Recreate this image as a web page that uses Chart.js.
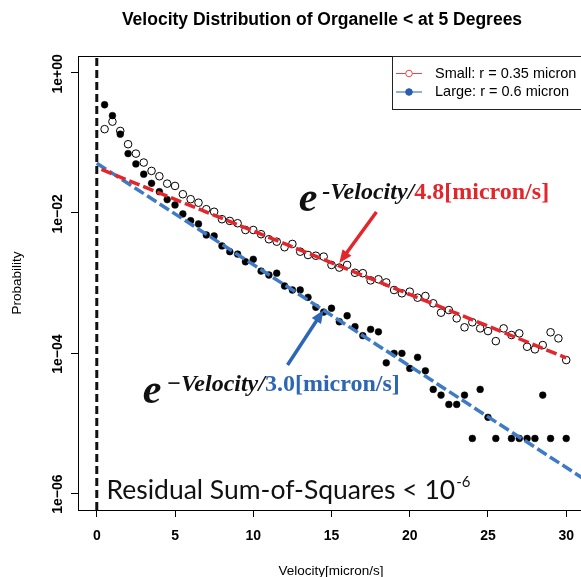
<!DOCTYPE html>
<html>
<head>
<meta charset="utf-8">
<title>Velocity Distribution of Organelle</title>
<script src="https://cdn.jsdelivr.net/npm/chart.js@4.4.1/dist/chart.umd.min.js"></script>
<style>
  html, body { margin: 0; padding: 0; background: #fff; overflow: hidden; }
  #wrap { position: relative; width: 590px; height: 577px; }
</style>
</head>
<body>
<div id="wrap"><canvas id="velocityChart" width="590" height="577"></canvas></div>
<script>
// Velocity bins (micron/s)
const velocity = [0.5, 1, 1.5, 2, 2.5, 3, 3.5, 4, 4.5, 5, 5.5, 6, 6.5, 7, 7.5, 8, 8.5, 9, 9.5, 10,
    10.5, 11, 11.5, 12, 12.5, 13, 13.5, 14, 14.5, 15, 15.5, 16, 16.5, 17, 17.5, 18, 18.5, 19, 19.5, 20,
    20.5, 21, 21.5, 22, 22.5, 23, 23.5, 24, 24.5, 25, 25.5, 26, 26.5, 27, 27.5, 28, 28.5, 29, 29.5, 30];

// Small organelles, r = 0.35 micron
const smallProb = [0.157, 0.201, 0.148, 0.0957, 0.0703, 0.0524, 0.0398, 0.0334, 0.0262, 0.0243,
    0.0185, 0.0157, 0.0140, 0.0113, 0.0104, 0.00813, 0.00769, 0.00713, 0.00571, 0.00571,
    0.00497, 0.00421, 0.00389, 0.00324, 0.00361, 0.00280, 0.00251, 0.00245, 0.00238, 0.00181,
    0.00166, 0.00181, 0.00140, 0.00138, 0.00109, 0.00113, 0.00102, 0.000794, 0.000713, 0.000752,
    0.000617, 0.000652, 0.000513, 0.000377, 0.000411, 0.000313, 0.000233, 0.000275, 0.000225, 0.000206,
    0.000148, 0.000225, 0.000181, 0.000191, 0.000123, 0.000113, 0.000130, 0.000198, 0.000162, 0.0000794];

// Large organelles, r = 0.6 micron (empty bins are null)
const largeProb = [0.350, 0.245, 0.133, 0.0703, 0.0501, 0.0357, 0.0265, 0.0201, 0.0155, 0.0130,
    0.00968, 0.00776, 0.00697, 0.00485, 0.00469, 0.00338, 0.00280, 0.00259, 0.00201, 0.00218,
    0.00148, 0.00130, 0.00138, 0.000906, 0.000794, 0.000794, 0.000625, 0.000450, 0.000385, 0.000436,
    0.000280, 0.000341, 0.000238, 0.000177, 0.000218, 0.000201, 0.0000726, 0.0000991, 0.0000991, 0.0000604,
    0.0000869, 0.0000558, 0.0000303, 0.0000251, 0.0000185, 0.0000185, 0.0000251, 0.00000604, 0.0000303, 0.0000121,
    0.00000604, null, 0.00000604, 0.00000604, 0.00000604, 0.00000604, 0.0000251, 0.00000604, null, 0.00000604];

// Exponential fits, end points (straight on log axis)
const smallFitV = [0.3, 30];
const smallFitP = [0.0417, 0.0000855];
const largeFitV = [0, 31.2];
const largeFitP = [0.0513, 0.00000156];

// Axis ticks
const xTicks = [0, 5, 10, 15, 20, 25, 30];
const yTicks = [1, 1e-2, 1e-4, 1e-6];
const yTickLabels = ['1e+00', '1e\u221202', '1e\u221204', '1e\u221206'];

const X_MIN = -1.2, X_MAX = 31.2;
const Y_MIN = Math.pow(10, -6.24), Y_MAX = Math.pow(10, 0.24);

const RED = '#e3262b';
const BLUE = '#3f7bc4';
const SANS = '"Liberation Sans", Helvetica, Arial, sans-serif';
const SERIF = '"Liberation Serif", "Times New Roman", serif';

const toPoints = (xs, ys) => xs.map((v, i) => ({ x: v, y: ys[i] }));

function drawArrow(ctx, x1, y1, x2, y2, color) {
    const ang = Math.atan2(y2 - y1, x2 - x1);
    const head = 13, half = 5.5;
    const c = Math.cos(ang), s = Math.sin(ang);
    ctx.strokeStyle = color;
    ctx.fillStyle = color;
    ctx.lineWidth = 3.5;
    ctx.beginPath();
    ctx.moveTo(x1, y1);
    ctx.lineTo(x2 - head * 0.8 * c, y2 - head * 0.8 * s);
    ctx.stroke();
    ctx.beginPath();
    ctx.moveTo(x2, y2);
    ctx.lineTo(x2 - head * c + half * s, y2 - head * s - half * c);
    ctx.lineTo(x2 - head * c - half * s, y2 - head * s + half * c);
    ctx.closePath();
    ctx.fill();
}

// e^(-Velocity/k) label; px, py = left edge and baseline of the "e"
function drawExpLabel(ctx, px, py, minus, value, color) {
    ctx.textAlign = 'left';
    ctx.textBaseline = 'alphabetic';
    ctx.fillStyle = '#111';
    ctx.font = 'italic bold 42px ' + SERIF;
    ctx.fillText('e', px, py);
    let x = px + ctx.measureText('e').width + 5;
    ctx.font = 'italic bold 24px ' + SERIF;
    const sup = minus + 'Velocity/';
    ctx.fillText(sup, x, py - 12);
    x += ctx.measureText(sup).width;
    ctx.font = 'bold 24px ' + SERIF;
    ctx.fillStyle = color;
    ctx.fillText(value, x, py - 12);
}

const decorations = {
    id: 'decorations',
    afterDraw(chart) {
        const { ctx, chartArea: a, scales: { x, y } } = chart;
        ctx.save();

        // plot frame
        ctx.strokeStyle = '#000';
        ctx.lineWidth = 1;
        ctx.strokeRect(a.left + 0.5, a.top + 0.5, a.right - a.left, a.bottom - a.top);

        // title
        ctx.fillStyle = '#000';
        ctx.font = 'bold 17.5px ' + SANS;
        ctx.textAlign = 'center';
        ctx.textBaseline = 'middle';
        ctx.fillText('Velocity Distribution of Organelle < at 5 Degrees', 322, 20);

        // axis titles
        ctx.font = '13.5px ' + SANS;
        ctx.fillText('Velocity[micron/s]', 331, 571);
        ctx.save();
        ctx.translate(17, 283);
        ctx.rotate(-Math.PI / 2);
        ctx.fillText('Probability', 0, 0);
        ctx.restore();

        // y tick labels, parallel to the axis
        ctx.font = 'bold 14px ' + SANS;
        yTicks.forEach((v, i) => {
            ctx.save();
            ctx.translate(58, y.getPixelForValue(v) + 1);
            ctx.rotate(-Math.PI / 2);
            ctx.fillText(yTickLabels[i], 0, 0);
            ctx.restore();
        });

        // legend
        const lx = 392, ly = a.top;
        ctx.fillStyle = '#fff';
        ctx.fillRect(lx, ly, 200, 53);
        ctx.strokeStyle = '#222';
        ctx.lineWidth = 1;
        ctx.strokeRect(lx + 0.5, ly + 0.5, 200, 53);
        const rows = [
            { label: 'Small: r = 0.35 micron', color: '#e8454b', filled: false, y: ly + 17.5 },
            { label: 'Large: r = 0.6 micron', color: '#2a5db0', filled: true, y: ly + 36 }
        ];
        ctx.font = '14.5px ' + SANS;
        ctx.textAlign = 'left';
        rows.forEach(r => {
            ctx.strokeStyle = r.color;
            ctx.lineWidth = 1;
            ctx.beginPath();
            ctx.moveTo(396, r.y);
            ctx.lineTo(422, r.y);
            ctx.stroke();
            ctx.beginPath();
            ctx.arc(409, r.y, 3.3, 0, Math.PI * 2);
            ctx.fillStyle = r.filled ? r.color : '#fff';
            ctx.fill();
            ctx.stroke();
            ctx.fillStyle = '#000';
            ctx.fillText(r.label, 435, r.y);
        });

        // fit annotations
        drawExpLabel(ctx, x.getPixelForValue(12.9), y.getPixelForValue(0.0106), '-', '4.8[micron/s]', RED);
        drawExpLabel(ctx, x.getPixelForValue(2.94), y.getPixelForValue(0.0000193), '\u2212', '3.0[micron/s]', '#2d66b3');
        drawArrow(ctx, x.getPixelForValue(17.87), y.getPixelForValue(0.0103),
            x.getPixelForValue(15.5), y.getPixelForValue(0.00193), RED);
        drawArrow(ctx, x.getPixelForValue(12.19), y.getPixelForValue(0.0000674),
            x.getPixelForValue(14.49), y.getPixelForValue(0.000411), '#2d66b3');

        // goodness of fit note
        ctx.fillStyle = '#111';
        ctx.font = '26.5px Lato, "Open Sans", sans-serif';
        ctx.textBaseline = 'alphabetic';
        const note = 'Residual Sum-of-Squares < 10';
        const nx = x.getPixelForValue(0.62), ny = y.getPixelForValue(0.00000082);
        ctx.fillText(note, nx, ny);
        const nw = ctx.measureText(note).width;
        ctx.font = '15px Lato, "Open Sans", sans-serif';
        ctx.fillText('-6', nx + nw + 1, ny - 12);

        ctx.restore();
    }
};

const ctx = document.getElementById('velocityChart').getContext('2d');
const velocityChart = new Chart(ctx, {
    type: 'scatter',
    data: {
        datasets: [
            {
                label: 'zero velocity',
                data: [{ x: 0, y: Y_MIN }, { x: 0, y: Y_MAX }],
                showLine: true,
                borderColor: '#111',
                borderWidth: 3,
                borderDash: [8, 4],
                pointRadius: 0,
                order: 0
            },
            {
                label: 'Small fit',
                data: toPoints(smallFitV, smallFitP),
                showLine: true,
                borderColor: RED,
                borderWidth: 3.5,
                borderDash: [11, 4],
                pointRadius: 0,
                order: 1
            },
            {
                label: 'Large fit',
                data: toPoints(largeFitV, largeFitP),
                showLine: true,
                borderColor: BLUE,
                borderWidth: 3.5,
                borderDash: [11, 4],
                pointRadius: 0,
                order: 1
            },
            {
                label: 'Small: r = 0.35 micron',
                data: toPoints(velocity, smallProb),
                pointStyle: 'circle',
                pointRadius: 3.8,
                borderWidth: 1,
                borderColor: '#000',
                backgroundColor: 'rgba(255,255,255,0)',
                order: 2
            },
            {
                label: 'Large: r = 0.6 micron',
                data: toPoints(velocity, largeProb),
                pointStyle: 'circle',
                pointRadius: 3.4,
                borderWidth: 0.5,
                borderColor: '#000',
                backgroundColor: '#000',
                order: 2
            }
        ]
    },
    options: {
        responsive: false,
        devicePixelRatio: 1,
        animation: false,
        layout: { padding: { top: 56, right: 5, left: 0, bottom: 0 } },
        plugins: {
            legend: { display: false },
            tooltip: { enabled: false },
            title: { display: false }
        },
        scales: {
            x: {
                type: 'linear',
                min: X_MIN,
                max: X_MAX,
                afterBuildTicks: s => { s.ticks = xTicks.map(v => ({ value: v })); },
                afterFit: s => { s.height = 67; },
                grid: { display: true, drawOnChartArea: false, drawTicks: true, tickLength: 7, color: '#000' },
                border: { display: true, color: '#000', width: 1 },
                ticks: {
                    color: '#000',
                    padding: 11,
                    maxRotation: 0,
                    font: { family: SANS, size: 14, weight: 'bold' }
                }
            },
            y: {
                type: 'logarithmic',
                min: Y_MIN,
                max: Y_MAX,
                afterBuildTicks: s => { s.ticks = yTicks.map(v => ({ value: v })); },
                afterFit: s => { s.width = 78; },
                grid: { display: true, drawOnChartArea: false, drawTicks: true, tickLength: 7, color: '#000' },
                border: { display: true, color: '#000', width: 1 },
                ticks: { display: false }
            }
        }
    },
    plugins: [decorations]
});
</script>
</body>
</html>
